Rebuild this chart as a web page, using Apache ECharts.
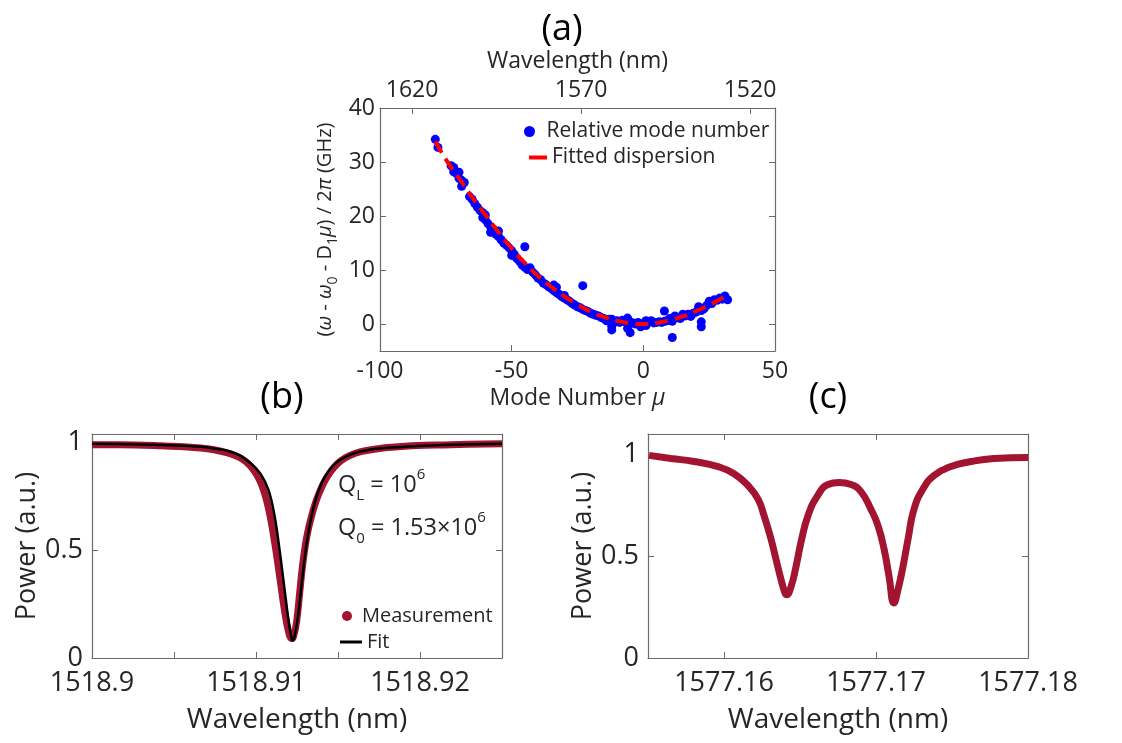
<!DOCTYPE html>
<html>
<head>
<meta charset="utf-8">
<title>Dispersion and resonances</title>
<script src="https://cdn.jsdelivr.net/npm/echarts@6/dist/echarts.min.js"></script>
<style>
html,body{margin:0;padding:0;background:#fff;}
#main{width:1122px;height:743px;}
</style>
</head>
<body>
<div id="main"></div>
<script>
// (a) measured dispersion: mode number / offset in GHz
var modeNum = [-79,-78,-73,-72,-72,-71,-70,-70,-69,-69,-68,-66,-65,-64,-63,-62,-61,-61,-60,-60,-59,-58,-58,-57,-56,-55,-55,-54,-53,-52,-51,-50,-50,-49,-48,-47,-46,-45,-45,-44,-43,-42,-41,-40,-39,-38,-37,-36,-35,-34,-34,-33,-33,-32,-31,-30,-30,-29,-28,-27,-26,-25,-24,-23,-23,-22,-21,-20,-19,-18,-17,-16,-15,-14,-13,-12,-12,-12,-11,-10,-9,-8,-7,-6,-6,-5,-5,-4,-3,-2,-1,0,1,1,2,3,4,5,6,7,8,8,9,10,11,11,12,13,14,15,16,17,18,19,20,21,22,22,22,23,24,25,26,27,28,29,30,31,31,32];
var modeGHz = [34.2,32.7,29.3,29.0,28.2,27.9,28.1,27.0,26.6,25.5,26.2,23.6,23.1,22.3,21.6,21.0,20.6,19.7,19.3,20.2,18.6,18.0,17.0,17.6,16.6,16.2,17.2,15.6,15.0,14.6,14.1,13.6,12.7,12.9,12.1,11.6,10.9,14.3,10.5,10.1,10.4,9.6,9.1,8.5,8.2,7.6,7.3,6.9,6.6,6.2,7.2,6.8,5.8,5.5,5.1,4.8,5.3,4.5,4.2,3.8,3.5,3.2,3.0,7.1,2.7,2.5,2.3,2.0,1.8,1.6,1.5,1.2,1.0,0.6,0.9,0.9,-0.4,-1.1,0.3,0.6,0.3,0.7,0.4,1.1,-0.8,-1.6,0.4,0.2,0.0,0.3,-0.5,0.1,0.6,-0.3,0.3,0.6,0.2,0.3,0.4,0.3,2.4,0.5,0.6,1.0,0.5,-2.5,1.5,1.2,1.0,1.8,1.5,1.8,1.4,2.0,2.2,3.2,2.5,0.4,-0.5,2.8,3.4,4.2,3.8,4.5,4.4,4.8,4.6,5.2,4.8,4.5];
var fitMu = [-79,-75,-70,-65,-60,-55,-50,-45,-40,-35,-30,-25,-20,-15,-10,-5,0,5,10,15,20,25,30,32];
var fitGHz = [33.8,30.5,27.0,23.5,20.2,17.0,14.0,11.3,8.9,6.9,5.1,3.6,2.3,1.3,0.6,0.15,0,0.2,0.7,1.4,2.4,3.5,4.8,5.3];
var muTicks = [-100,-50,0,50];
var ghzTicks = [0,10,20,30,40];
var topWlTicks = [1520,1570,1620];

// (b) single resonance near 1518.91 nm
var bMeasWl = [1518.9,1518.90171,1518.90416,1518.90661,1518.90813,1518.90924,1518.90997,1518.91046,1518.91083,1518.91113,1518.91144,1518.91174,1518.91199,1518.91217,1518.91229,1518.91248,1518.91266,1518.91284,1518.91309,1518.91339,1518.91382,1518.91437,1518.91517,1518.91639,1518.91884,1518.9219,1518.925];
var bMeasPow = [0.99,0.99,0.985,0.975,0.955,0.92,0.86,0.78,0.67,0.54,0.38,0.22,0.12,0.09,0.10,0.17,0.30,0.43,0.56,0.66,0.76,0.845,0.915,0.958,0.982,0.99,0.995];
var bFitWl = [1518.9,1518.90355,1518.90599,1518.90752,1518.90875,1518.90966,1518.91028,1518.91076,1518.91113,1518.91144,1518.91174,1518.91199,1518.91217,1518.91223,1518.91235,1518.91254,1518.91278,1518.91303,1518.91333,1518.9137,1518.91419,1518.91486,1518.91578,1518.917,1518.91884,1518.9219,1518.925];
var bFitPow = [0.995,0.99,0.984,0.972,0.95,0.905,0.855,0.78,0.66,0.50,0.32,0.17,0.09,0.08,0.10,0.18,0.34,0.50,0.64,0.75,0.84,0.905,0.945,0.968,0.98,0.99,0.995];
var bWlLabels = [1518.9,1518.91,1518.92];
var bWlTicks = [1518.905,1518.91,1518.915,1518.92];
var powTicks = [0,0.5,1];

// (c) split resonance near 1577.17 nm
var cWl = [1577.15507,1577.15651,1577.15803,1577.15961,1577.16066,1577.16158,1577.16224,1577.16263,1577.16309,1577.16342,1577.16375,1577.16401,1577.16412,1577.16441,1577.16474,1577.16507,1577.16553,1577.16618,1577.16684,1577.16757,1577.16836,1577.16901,1577.16967,1577.17013,1577.17053,1577.17086,1577.17118,1577.17145,1577.17178,1577.17211,1577.1725,1577.17309,1577.17382,1577.17493,1577.17625,1577.17776,1577.18];
var cPow = [0.995,0.98,0.965,0.94,0.905,0.847,0.78,0.70,0.585,0.485,0.386,0.32,0.31,0.35,0.45,0.57,0.70,0.80,0.852,0.862,0.852,0.817,0.73,0.65,0.535,0.40,0.27,0.337,0.45,0.585,0.73,0.83,0.896,0.94,0.965,0.98,0.985];
var cWlTicks = [1577.16,1577.17,1577.18];

var FONT = 'Open Sans';
var TXT = '#262626';
var BOX = '#6a6a6a';
var MEAS = '#A2142F';

function pair(xs, ys){
	var out = [];
	for (var i = 0; i < xs.length; i++) out.push([xs[i], ys[i]]);
	return out;
}
function trim(v){ return String(+v.toFixed(4)); }

// one boxed axis (MATLAB style: ticks inside, mirrored side without labels)
function boxAxis(grid, pos, min, max, labels, ticks, fs, margin, extra){
	var ax = {
		type: 'value', gridIndex: grid, position: pos, min: min, max: max,
		splitLine: {show: false},
		axisLine: {show: true, onZero: false, lineStyle: {color: BOX, width: 1.2}},
		axisTick: {show: !!ticks, inside: true, length: 6, customValues: ticks || [], lineStyle: {color: BOX}},
		axisLabel: {show: !!labels, customValues: labels || [], color: TXT, fontFamily: FONT, fontSize: fs, margin: margin, formatter: trim, hideOverlap: false}
	};
	for (var k in extra) ax[k] = extra[k];
	return ax;
}

var nameStyle = function(fs){ return {color: TXT, fontFamily: FONT, fontSize: fs}; };
var subSup = {
	s: {fontSize: 15, lineHeight: 15, verticalAlign: 'bottom', fontFamily: FONT, fill: TXT},
	p: {fontSize: 15, lineHeight: 15, verticalAlign: 'top', fontFamily: FONT, fill: TXT}
};

var chart = echarts.init(document.getElementById('main'));
var option = {
	animation: false,
	backgroundColor: '#fff',
	textStyle: {fontFamily: FONT},
	grid: [
		{left: 380, top: 108, width: 395, height: 243},
		{left: 92, top: 434, width: 410, height: 224},
		{left: 648, top: 434, width: 380, height: 224}
	],
	xAxis: [
		boxAxis(0, 'bottom', -100, 50, muTicks, [-50, 0], 23, 9, {
			name: 'Mode Number {i|μ}', nameLocation: 'middle', nameGap: 36,
			nameTextStyle: {color: TXT, fontFamily: FONT, fontSize: 23, rich: {i: {fontStyle: 'italic', fontSize: 23, color: TXT, fontFamily: FONT}}}
		}),
		boxAxis(0, 'top', 1512.6, 1629.5, topWlTicks, topWlTicks, 23, 6, {
			inverse: true, name: 'Wavelength (nm)', nameLocation: 'middle', nameGap: 35, nameTextStyle: nameStyle(23)
		}),
		boxAxis(1, 'bottom', 1518.9, 1518.925, bWlLabels, bWlTicks, 27, 12, {
			name: 'Wavelength (nm)', nameLocation: 'middle', nameGap: 48, nameTextStyle: nameStyle(28)
		}),
		boxAxis(1, 'top', 1518.9, 1518.925, null, bWlTicks, 27, 12, {}),
		boxAxis(2, 'bottom', 1577.155, 1577.18, cWlTicks, [1577.16, 1577.17], 27, 12, {
			name: 'Wavelength (nm)', nameLocation: 'middle', nameGap: 48, nameTextStyle: nameStyle(28)
		}),
		boxAxis(2, 'top', 1577.155, 1577.18, null, [1577.16, 1577.17], 27, 12, {})
	],
	yAxis: [
		boxAxis(0, 'left', -5, 40, ghzTicks, [0, 10, 20, 30], 23, 5, {
			name: '({g|ω} - {g|ω}{s|0} - D{s|1}{g|μ}) / 2{g|π} (GHz)', nameLocation: 'middle', nameGap: 40,
			nameTextStyle: {color: TXT, fontFamily: FONT, fontSize: 20, lineHeight: 29, rich: {
				g: {fontStyle: 'italic', fontSize: 20, color: TXT, fontFamily: FONT},
				s: {fontSize: 14, color: TXT, fontFamily: FONT, verticalAlign: 'bottom', lineHeight: 14}
			}}
		}),
		boxAxis(0, 'right', -5, 40, null, [0, 10, 20, 30], 23, 5, {}),
		boxAxis(1, 'left', 0, 1.04, powTicks, [0.5], 27, 9, {
			name: 'Power (a.u.)', nameLocation: 'middle', nameGap: 50, nameTextStyle: nameStyle(27)
		}),
		boxAxis(1, 'right', 0, 1.04, null, [0.5], 27, 9, {}),
		boxAxis(2, 'left', 0, 1.1, powTicks, [0.5], 27, 9, {
			name: 'Power (a.u.)', nameLocation: 'middle', nameGap: 46, nameTextStyle: nameStyle(27)
		}),
		boxAxis(2, 'right', 0, 1.1, null, [0.5], 27, 9, {})
	],
	legend: [
		{data: [{name: 'Relative mode number', icon: 'circle'}], left: 519, top: 116, itemWidth: 24, itemHeight: 11,
			textStyle: {color: TXT, fontFamily: FONT, fontSize: 21}, itemGap: 5},
		{data: [{name: 'Fitted dispersion', icon: 'rect'}], left: 524, top: 142, itemWidth: 18, itemHeight: 4,
			textStyle: {color: TXT, fontFamily: FONT, fontSize: 21}, itemGap: 5},
		{data: [{name: 'Measurement', icon: 'circle'}], left: 337, top: 601, itemWidth: 20, itemHeight: 10,
			textStyle: {color: TXT, fontFamily: FONT, fontSize: 20}},
		{data: [{name: 'Fit', icon: 'rect'}], left: 335, top: 627, itemWidth: 22, itemHeight: 3,
			textStyle: {color: TXT, fontFamily: FONT, fontSize: 20}}
	],
	series: [
		{name: 'Relative mode number', type: 'scatter', xAxisIndex: 0, yAxisIndex: 0,
			data: pair(modeNum, modeGHz), symbolSize: 9, itemStyle: {color: '#0000FF', opacity: 1}},
		{name: 'Fitted dispersion', type: 'line', xAxisIndex: 0, yAxisIndex: 0, smooth: true, showSymbol: false,
			data: pair(fitMu, fitGHz), itemStyle: {color: '#FF0000'}, lineStyle: {color: '#FF0000', width: 4, type: [13, 7]}},
		{name: 'Measurement', type: 'line', xAxisIndex: 2, yAxisIndex: 2, smooth: 0.4, showSymbol: false,
			data: pair(bMeasWl, bMeasPow), itemStyle: {color: MEAS}, lineStyle: {color: MEAS, width: 7}},
		{name: 'Fit', type: 'line', xAxisIndex: 2, yAxisIndex: 2, smooth: 0.4, showSymbol: false,
			data: pair(bFitWl, bFitPow), itemStyle: {color: '#000'}, lineStyle: {color: '#000', width: 2.5}},
		{name: 'c trace', type: 'line', xAxisIndex: 4, yAxisIndex: 4, smooth: true, showSymbol: false,
			data: pair(cWl, cPow), itemStyle: {color: MEAS}, lineStyle: {color: MEAS, width: 7}}
	],
	graphic: [
		{type: 'text', x: 562, y: 30, style: {text: '(a)', font: '36px "Open Sans"', fill: '#000', align: 'center', verticalAlign: 'middle'}},
		{type: 'text', x: 282, y: 398, style: {text: '(b)', font: '36px "Open Sans"', fill: '#000', align: 'center', verticalAlign: 'middle'}},
		{type: 'text', x: 828, y: 398, style: {text: '(c)', font: '36px "Open Sans"', fill: '#000', align: 'center', verticalAlign: 'middle'}},
		{type: 'text', x: 338, y: 467, style: {
			text: 'Q{s|L} = 10{p|6}', fill: TXT, fontFamily: FONT, fontSize: 23.5, lineHeight: 36, rich: subSup
		}},
		{type: 'text', x: 338, y: 510, style: {
			text: 'Q{s|0} = 1.53×10{p|6}', fill: TXT, fontFamily: FONT, fontSize: 23.5, lineHeight: 36, rich: subSup
		}}
	]
};
chart.setOption(option);
</script>
</body>
</html>
